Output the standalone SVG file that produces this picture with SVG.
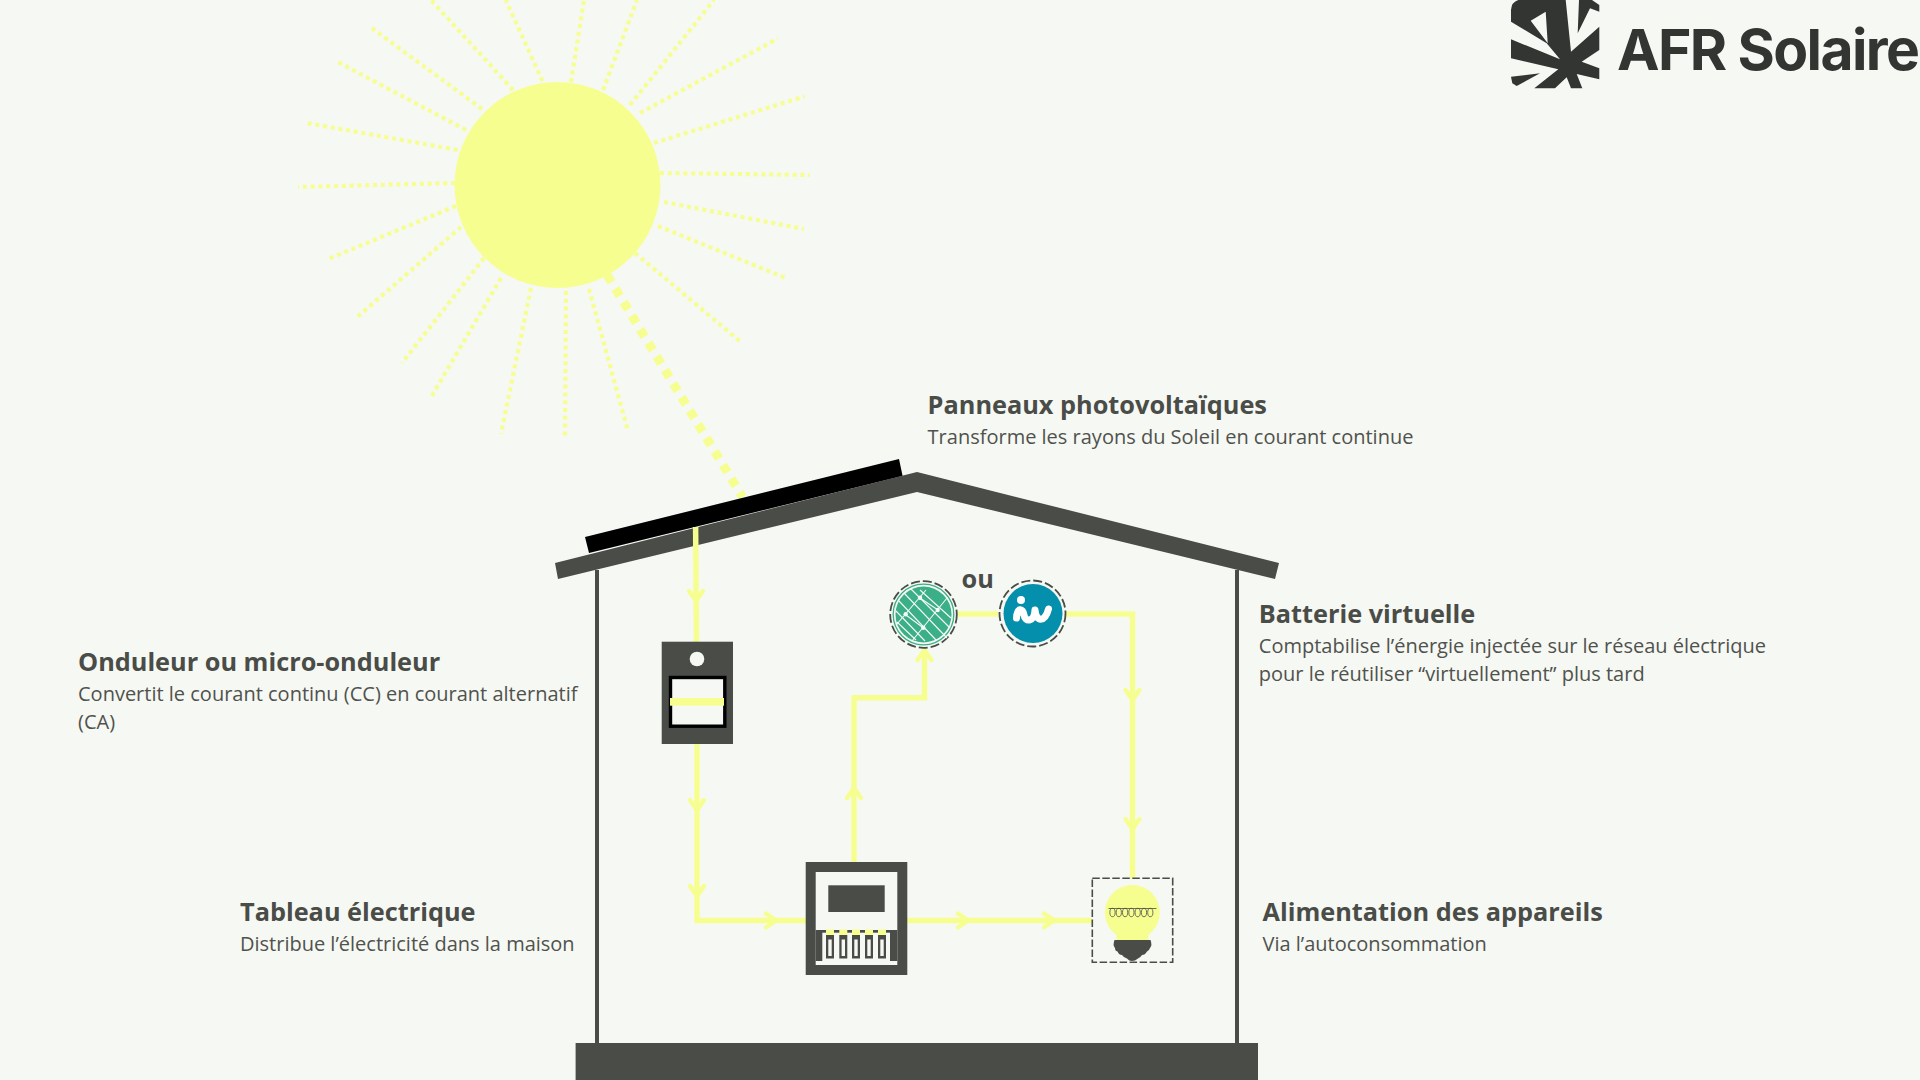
<svg xmlns="http://www.w3.org/2000/svg" width="1920" height="1080" viewBox="0 0 1920 1080">
<defs>
<g id="chev"><path d="M-7,-10 L0,0 L7,-10" fill="none" stroke="#f7fe90" stroke-width="4.500" stroke-linecap="round"/></g>
</defs>
<style>
.ray{stroke:#f7fe90;stroke-width:4.200;stroke-dasharray:4 3.800;fill:none}
.big{stroke:#f7fe90;stroke-width:9;stroke-dasharray:8.500 7.400;fill:none}
.wire{stroke:#f7fe90;stroke-width:5.500;fill:none;stroke-linejoin:miter}
.d{fill:#4a4c47}
.h{font:700 25.300px "Open Sans",sans-serif;fill:#4a4c47}
.s{font:400 20px "Open Sans",sans-serif;fill:#50524d}
</style>
<rect width="1920" height="1080" fill="#f6f8f3"/>
<g id="sun">
<path class="ray" d="M513,90L431,0"/><path class="ray" d="M542.500,81L505.700,0"/><path class="ray" d="M571,82L584,0"/><path class="ray" d="M603,90L637,0"/><path class="ray" d="M630,105L714,0"/><path class="ray" d="M640,113L778,38.500"/><path class="ray" d="M654,143L804.500,96.500"/><path class="ray" d="M660,173L810,175"/><path class="ray" d="M664,202L804,229"/><path class="ray" d="M658,226L788,279"/><path class="ray" d="M635,253L742,343"/><path class="ray" d="M589,289L628,431"/><path class="ray" d="M566,291L565,439"/><path class="ray" d="M531,288L501,434"/><path class="ray" d="M501,278L430,399"/><path class="ray" d="M484,258L402,363"/><path class="ray" d="M461,227L355,319"/><path class="ray" d="M456,206L326,260"/><path class="ray" d="M455,183L298,187"/><path class="ray" d="M457.500,150L304,122.500"/><path class="ray" d="M466,130L336,61"/><path class="ray" d="M482,109L369,26"/>
<path class="big" d="M607,275L742.500,497"/>
<circle cx="557.500" cy="185" r="103" fill="#f7fe90"/>
</g>
<g id="house">
<rect class="d" x="595" y="570" width="4" height="475"/>
<rect class="d" x="1235" y="570" width="4" height="475"/>
<rect class="d" x="575.600" y="1043" width="682.400" height="37"/>
<path d="M585,537L899,459L902.600,476L589,553Z" fill="#000"/>
<path class="d" d="M917,472L1279,563L1275,579L917,492L558,579L555,563Z"/>
</g>
<g id="connectors">
<path class="wire" d="M695.600,527L696.500,642"/>
<path class="wire" d="M697,744V920.500H806"/>
<path class="wire" d="M854,862V697.700H924.500V650"/>
<path class="wire" d="M907,920.500H1092"/>
<path class="wire" d="M958,614H998M1066,614H1132.500V878"/>
<use href="#chev" transform="translate(696,601)"/>
<use href="#chev" transform="translate(697,810)"/>
<use href="#chev" transform="translate(697,896)"/>
<use href="#chev" transform="translate(776,920.500) rotate(-90)"/>
<use href="#chev" transform="translate(854,788) rotate(180)"/>
<use href="#chev" transform="translate(924.500,650) rotate(180)"/>
<use href="#chev" transform="translate(968,920.500) rotate(-90)"/>
<use href="#chev" transform="translate(1054,920.500) rotate(-90)"/>
<use href="#chev" transform="translate(1132.500,700)"/>
<use href="#chev" transform="translate(1132.500,829)"/>
</g>
<g id="inverter">
<rect class="d" x="661.700" y="641.700" width="71.300" height="102.300"/>
<circle cx="697" cy="659" r="7.300" fill="#f6f8f3"/>
<rect x="670.500" y="677.500" width="54.300" height="48.700" fill="#f6f8f3" stroke="#000" stroke-width="3.400"/>
<rect x="670" y="698" width="54" height="7.700" fill="#f7fe90"/>
</g>
<g id="meter">
<rect class="d" x="805.700" y="862" width="101.600" height="113"/>
<rect x="815.700" y="872" width="81.600" height="93" fill="#f6f8f3"/>
<rect class="d" x="828.300" y="885.300" width="56.400" height="26.700"/>
<rect class="d" x="815.700" y="930" width="81.600" height="31"/>
<rect x="822.300" y="932.700" width="67.700" height="28.300" fill="#f6f8f3"/>
<g id="switches">
<g><rect class="d" x="826" y="935" width="8" height="23.500"/><rect x="828.300" y="939.500" width="3.400" height="16.500" fill="#f6f8f3"/><rect x="826" y="929.500" width="8" height="5.500" fill="#f7fe90"/></g>
<g><rect class="d" x="839.300" y="935" width="8" height="23.500"/><rect x="841.600" y="939.500" width="3.400" height="16.500" fill="#f6f8f3"/><rect x="839.300" y="929.500" width="8" height="5.500" fill="#f7fe90"/></g>
<g><rect class="d" x="852" y="935" width="8" height="23.500"/><rect x="854.300" y="939.500" width="3.400" height="16.500" fill="#f6f8f3"/><rect x="852" y="929.500" width="8" height="5.500" fill="#f7fe90"/></g>
<g><rect class="d" x="865" y="935" width="8" height="23.500"/><rect x="867.300" y="939.500" width="3.400" height="16.500" fill="#f6f8f3"/><rect x="865" y="929.500" width="8" height="5.500" fill="#f7fe90"/></g>
<g><rect class="d" x="878" y="935" width="8" height="23.500"/><rect x="880.300" y="939.500" width="3.400" height="16.500" fill="#f6f8f3"/><rect x="878" y="929.500" width="8" height="5.500" fill="#f7fe90"/></g>
</g>
</g>
<g id="bulb">
<rect x="1092.300" y="878.300" width="80.400" height="84" fill="none" stroke="#4a4c47" stroke-width="1.600" stroke-dasharray="7.500 2.500"/>
<circle cx="1132.300" cy="912.500" r="27.500" fill="#f7fe90"/>
<rect x="1116.700" y="925" width="31.600" height="17" fill="#f7fe90"/>
<path class="d" d="M1114.500,940H1150.500Q1152.500,945 1150,948Q1149,951 1147,951.500Q1145,955 1142,955Q1140,958 1138,958.500Q1135,961 1132,961Q1129,961 1127,958.500Q1124,958 1122,955Q1119,955 1117.500,951.500Q1115,951 1115,948Q1112.500,945 1114.500,940Z"/>
<g fill="none" stroke="#4a4c47" stroke-width="0.800">
<path d="M1108.500,908.500H1156.500"/>
<ellipse cx="1112.500" cy="912.500" rx="2.600" ry="4.200"/><ellipse cx="1118.800" cy="912.500" rx="2.600" ry="4.200"/><ellipse cx="1125.100" cy="912.500" rx="2.600" ry="4.200"/><ellipse cx="1131.400" cy="912.500" rx="2.600" ry="4.200"/><ellipse cx="1137.700" cy="912.500" rx="2.600" ry="4.200"/><ellipse cx="1144" cy="912.500" rx="2.600" ry="4.200"/><ellipse cx="1150.300" cy="912.500" rx="2.600" ry="4.200"/>
</g>
</g>
<g id="grid-icon">
<circle cx="923.500" cy="614.500" r="33.300" fill="#f6f8f3" stroke="#4a4c47" stroke-width="1.800" stroke-dasharray="9 3"/>
<circle cx="923.500" cy="614.500" r="30.300" fill="none" stroke="#3aaf88" stroke-width="1.300"/>
<circle cx="923.500" cy="614.500" r="28" fill="#3aaf88"/>
<g stroke="#f6f8f3" stroke-width="1.100" fill="none">
<path d="M899,601L936,640M904,593L947,638M911,589L950,628M920,590L951,618M896,611L925,641M897,622L916,640"/>
<path d="M897,624L926,590M912,641L947,598"/>
<path d="M906,615L923.500,628M920,598L938,610"/>
</g>
<g fill="#f6f8f3"><circle cx="905.700" cy="614.300" r="2.200"/><circle cx="920" cy="597.700" r="2.200"/><circle cx="937.700" cy="610" r="2.200"/><circle cx="923.300" cy="627.700" r="2.200"/></g>
</g>
<g id="iw-icon">
<circle cx="1032.500" cy="613.500" r="33" fill="#f6f8f3" stroke="#4a4c47" stroke-width="1.800" stroke-dasharray="9 3"/>
<circle cx="1033" cy="613.500" r="29.500" fill="#048fac"/>
<circle cx="1021" cy="600" r="4" fill="#fff"/>
<path d="M1016.500,618C1017,607 1023,608 1024,615C1025,622 1034,623 1035,610C1036,622 1045,623 1048.500,609" fill="none" stroke="#fff" stroke-width="7" stroke-linecap="round" stroke-linejoin="round"/>
</g>
<g id="logo" fill="#333532">
<path fill-rule="evenodd" d="M1511,21.700V10Q1511.500,2 1518.300,0H1565.700L1571,51.700L1599.300,26.700V50L1581.700,61.700L1599.300,68.300V79.300L1576.700,74L1582.300,88.300H1571L1566.700,77.300L1555,88.300H1534.300L1558.300,69.300L1511,58.300V39.300L1560,59.300L1546.700,43.300ZM1530.700,20.700L1545.700,11.700L1547.700,43.300Z"/>
<path d="M1511,76.700L1540,73.300L1516.700,86L1512.300,83.300Z"/>
<path d="M1579,0L1577.700,33.300L1590,8.300L1599.300,11.700V5L1592,0Z"/>
<text x="1617" y="69.500" font-family="Inter,sans-serif" font-weight="700" font-size="57" letter-spacing="-1.600">AFR Solaire</text>
</g>
<g id="label-panels"><text class="h" x="927.600" y="414">Panneaux photovoltaïques</text><text class="s" x="927.600" y="443.500">Transforme les rayons du Soleil en courant continue</text></g>
<g id="label-battery"><text class="h" x="1258.800" y="623">Batterie virtuelle</text><text class="s" x="1258.800" y="652.500">Comptabilise l’énergie injectée sur le réseau électrique</text><text class="s" x="1258.800" y="680.500">pour le réutiliser “virtuellement” plus tard</text></g>
<g id="label-inverter"><text class="h" x="78" y="671">Onduleur ou micro-onduleur</text><text class="s" x="78" y="700.500">Convertit le courant continu (CC) en courant alternatif</text><text class="s" x="78" y="728.500">(CA)</text></g>
<g id="label-board"><text class="h" x="240" y="921">Tableau électrique</text><text class="s" x="240" y="950.500">Distribue l’électricité dans la maison</text></g>
<g id="label-load"><text class="h" x="1262.500" y="921">Alimentation des appareils</text><text class="s" x="1262.500" y="950.500">Via l’autoconsommation</text></g>
<text id="label-or" class="h" x="961.500" y="588">ou</text>
</svg>
